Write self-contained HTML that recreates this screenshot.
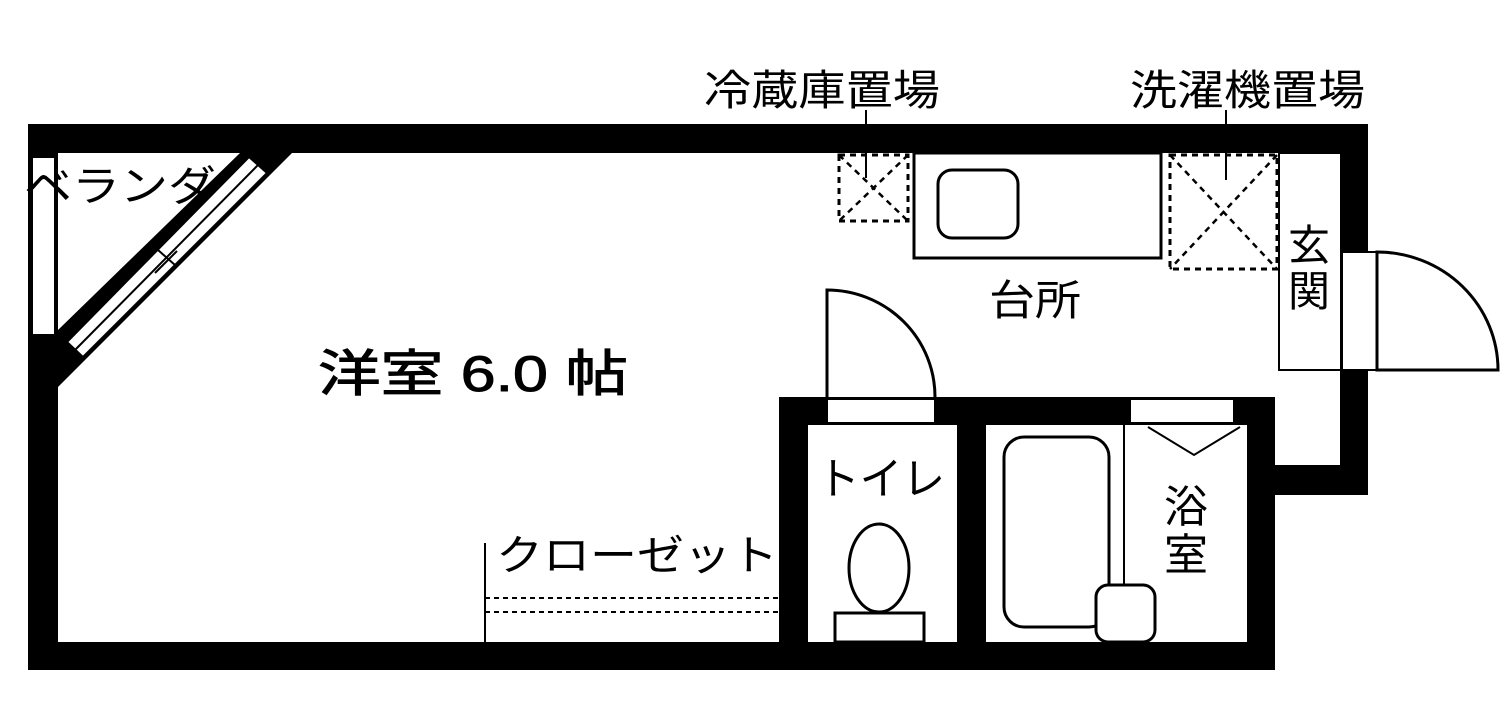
<!DOCTYPE html>
<html><head><meta charset="utf-8"><style>
html,body{margin:0;padding:0;background:#fff;}
svg{display:block}
text{font-family:"Liberation Sans","Noto Sans CJK JP",sans-serif;fill:#000}
</style></head><body>
<svg width="1500" height="712" viewBox="0 0 1500 712" xmlns="http://www.w3.org/2000/svg">
<rect x="28" y="124" width="1340" height="29" fill="#000"/>
<rect x="28" y="124" width="30" height="546" fill="#000"/>
<rect x="28" y="642" width="1247" height="28" fill="#000"/>
<rect x="1340" y="124" width="28" height="371" fill="#000"/>
<rect x="1275" y="465" width="93" height="30" fill="#000"/>
<rect x="1247" y="397" width="28" height="273" fill="#000"/>
<rect x="779" y="397" width="496" height="28" fill="#000"/>
<rect x="779" y="397" width="29" height="273" fill="#000"/>
<rect x="957" y="397" width="29" height="273" fill="#000"/>
<polygon points="240,153 292,153 58,387 58,330" fill="#000"/>
<rect x="32" y="157" width="23" height="178" fill="#fff" stroke="#000" stroke-width="2"/>
<polygon points="249,157 267,173 83,357 67,342" fill="#fff" stroke="#000" stroke-width="2"/>
<line x1="258" y1="165" x2="75" y2="350" stroke="#000" stroke-width="2"/>
<line x1="158" y1="250" x2="175" y2="265" stroke="#000" stroke-width="2"/>
<line x1="155" y1="273" x2="177" y2="251" stroke="#000" stroke-width="2"/>
<rect x="828" y="400" width="106" height="22" fill="#fff"/>
<rect x="1131" y="400" width="102" height="22" fill="#fff"/>
<rect x="1342" y="252" width="35" height="118" fill="#fff" stroke="#000" stroke-width="2"/>
<path d="M1377,370 L1377,252 A121,118 0 0 1 1498,370 Z" fill="none" stroke="#000" stroke-width="3"/>
<path d="M827,397 L827,290 A108,107 0 0 1 935,397" fill="none" stroke="#000" stroke-width="3"/>
<rect x="1279" y="153" width="62" height="217" fill="#fff" stroke="#000" stroke-width="2"/>
<rect x="914" y="153" width="247" height="105" fill="#fff" stroke="#000" stroke-width="3"/>
<rect x="938" y="170" width="80" height="68" rx="14" fill="#fff" stroke="#000" stroke-width="3"/>
<rect x="839" y="155" width="69" height="66" fill="none" stroke="#000" stroke-width="3" stroke-dasharray="6,5"/>
<line x1="839" y1="155" x2="908" y2="221" stroke="#000" stroke-width="2.5" stroke-dasharray="6,5"/>
<line x1="908" y1="155" x2="839" y2="221" stroke="#000" stroke-width="2.5" stroke-dasharray="6,5"/>
<line x1="866" y1="110" x2="866" y2="178" stroke="#000" stroke-width="2"/>
<rect x="1170" y="155" width="107" height="114" fill="none" stroke="#000" stroke-width="3" stroke-dasharray="6,5"/>
<line x1="1170" y1="155" x2="1277" y2="269" stroke="#000" stroke-width="2.5" stroke-dasharray="6,5"/>
<line x1="1277" y1="155" x2="1170" y2="269" stroke="#000" stroke-width="2.5" stroke-dasharray="6,5"/>
<line x1="1226" y1="110" x2="1226" y2="180" stroke="#000" stroke-width="2"/>
<ellipse cx="879" cy="568" rx="30" ry="44" fill="#fff" stroke="#000" stroke-width="3"/>
<rect x="835" y="613" width="89" height="29" fill="#fff" stroke="#000" stroke-width="3"/>
<rect x="1004" y="437" width="105" height="190" rx="20" fill="#fff" stroke="#000" stroke-width="3"/>
<line x1="1124" y1="425" x2="1124" y2="587" stroke="#000" stroke-width="2"/>
<rect x="1096" y="585" width="59" height="57" rx="12" fill="#fff" stroke="#000" stroke-width="3"/>
<polyline points="1148,427 1194,455 1240,427" fill="none" stroke="#000" stroke-width="2"/>
<line x1="485" y1="543" x2="485" y2="642" stroke="#000" stroke-width="2"/>
<line x1="485" y1="598" x2="779" y2="598" stroke="#000" stroke-width="2" stroke-dasharray="5,4"/>
<line x1="485" y1="612" x2="779" y2="612" stroke="#000" stroke-width="2" stroke-dasharray="5,4"/>
<text x="704" y="105" font-size="42" textLength="236" lengthAdjust="spacingAndGlyphs">冷蔵庫置場</text>
<text x="1130" y="105" font-size="42" textLength="235" lengthAdjust="spacingAndGlyphs">洗濯機置場</text>
<text x="24" y="201" font-size="42" textLength="192" lengthAdjust="spacingAndGlyphs">ベランダ</text>
<text x="318" y="391" font-size="50" stroke="#000" stroke-width="1" textLength="310" lengthAdjust="spacingAndGlyphs">洋室 6.0 帖</text>
<text x="989" y="315" font-size="42" textLength="92" lengthAdjust="spacingAndGlyphs">台所</text>
<text x="1288" y="260" font-size="42">玄</text>
<text x="1288" y="306" font-size="42">関</text>
<text x="817" y="494" font-size="44" textLength="128" lengthAdjust="spacingAndGlyphs">トイレ</text>
<text x="1164" y="522" font-size="44">浴</text>
<text x="1164" y="570" font-size="44">室</text>
<text x="496" y="570" font-size="42" textLength="282" lengthAdjust="spacingAndGlyphs">クローゼット</text>
</svg>
</body></html>
